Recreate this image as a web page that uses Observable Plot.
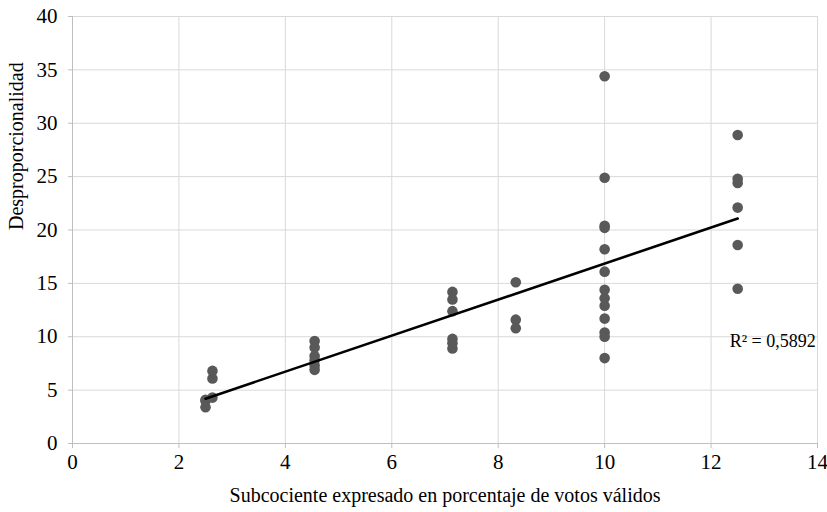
<!DOCTYPE html>
<html>
<head>
<meta charset="utf-8">
<script src="https://cdn.jsdelivr.net/npm/d3@7"></script>
<script src="https://cdn.jsdelivr.net/npm/@observablehq/plot@0.6"></script>
<style>
  body { margin: 0; background: #fff; }
  #chart svg { display: block; }
</style>
</head>
<body>
<div id="chart"></div>
<script>
// Subcociente (% de votos válidos) per point
const xs = [
  2.5, 2.5, 2.5,
  2.63, 2.63, 2.63,
  4.55, 4.55, 4.55, 4.55, 4.55, 4.55,
  7.14, 7.14, 7.14, 7.14, 7.14, 7.14,
  8.33, 8.33, 8.33,
  10, 10, 10, 10, 10, 10, 10, 10, 10, 10, 10, 10, 10,
  12.5, 12.5, 12.5, 12.5, 12.5, 12.5
];
// Desproporcionalidad per point
const ys = [
  4.1, 3.4, 4.0,
  4.3, 6.1, 6.8,
  9.6, 9.0, 8.2, 7.8, 7.3, 6.9,
  14.2, 13.5, 12.4, 9.8, 9.4, 8.9,
  15.1, 11.6, 10.8,
  34.4, 24.9, 20.4, 20.2, 18.2, 16.1, 14.4, 13.6, 12.9, 11.7, 10.4, 10.0, 8.0,
  28.9, 24.8, 24.4, 22.1, 18.6, 14.5
];
const xTicks = [0, 2, 4, 6, 8, 10, 12, 14];
const yTicks = [0, 5, 10, 15, 20, 25, 30, 35, 40];
const xLabel = "Subcociente expresado en porcentaje de votos válidos";
const yLabel = "Desproporcionalidad";
const r2Label = "R² = 0,5892";
const r2Pos = [12.35, 9.6];

const data = xs.map((x, i) => ({x, y: ys[i]}));
const serif = "'Liberation Serif', 'Times New Roman', serif";

const chart = Plot.plot({
  width: 827,
  height: 512,
  marginLeft: 72,
  marginRight: 10,
  marginTop: 16,
  marginBottom: 69,
  style: {fontFamily: serif, fontSize: "20px", color: "#000", background: "#fff"},
  x: {domain: [0, 14], label: null},
  y: {domain: [0, 40], label: null},
  marks: [
    Plot.ruleX(xTicks.filter(d => d > 0), {stroke: "#d9d9d9", strokeWidth: 1}),
    Plot.ruleY(yTicks.filter(d => d > 0), {stroke: "#d9d9d9", strokeWidth: 1}),
    Plot.ruleX([0], {stroke: "#bfbfbf", strokeWidth: 1}),
    Plot.ruleY([0], {stroke: "#bfbfbf", strokeWidth: 1}),
    Plot.axisX({ticks: xTicks, tickSize: 5, tickPadding: 6, stroke: "#bfbfbf", fill: "#000", fontSize: 21, label: null, tickFormat: d => String(d)}),
    Plot.axisY({ticks: yTicks, tickSize: 4, tickPadding: 11, stroke: "#bfbfbf", fill: "#000", fontSize: 21, label: null, tickFormat: d => String(d)}),
    Plot.dot(data, {x: "x", y: "y", r: 5.3, fill: "#595959", stroke: null}),
    Plot.linearRegressionY(data, {x: "x", y: "y", stroke: "#000", strokeWidth: 2.6, ci: 0}),
    Plot.text([r2Label], {x: () => r2Pos[0], y: () => r2Pos[1], textAnchor: "start", fontSize: 18, fill: "#000"}),
    Plot.text([xLabel], {frameAnchor: "bottom", dy: 58, fontSize: 20, fill: "#000"}),
    Plot.text([yLabel], {frameAnchor: "left", dx: -56, rotate: -90, fontSize: 20, fill: "#000"})
  ]
});
document.getElementById("chart").appendChild(chart);
</script>
</body>
</html>
